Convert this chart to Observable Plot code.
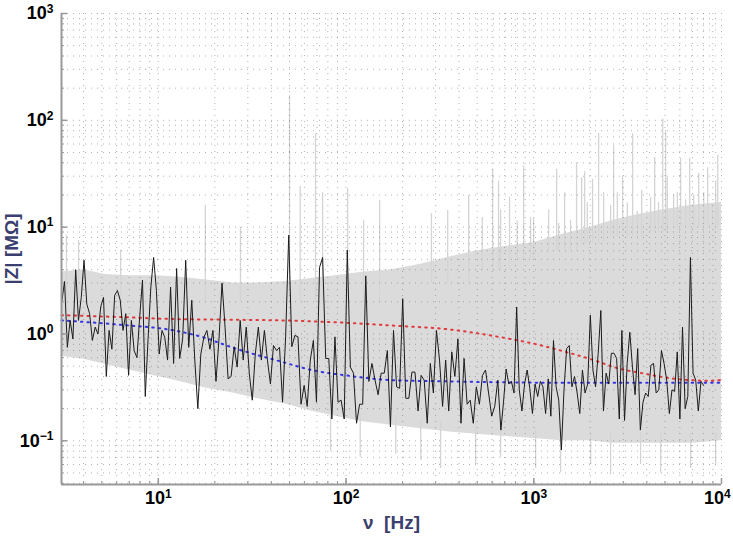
<!DOCTYPE html>
<html><head><meta charset="utf-8">
<script src="https://cdn.jsdelivr.net/npm/d3@7"></script>
<script src="https://cdn.jsdelivr.net/npm/@observablehq/plot@0.6"></script>
<style>body{margin:0;background:#fff}</style>
</head><body><div id="chart"></div>
<script>
// ---- axes ----
const xDomain = [3.05, 10000];
const yDomain = [0.039, 1000];
const xMajor = [10, 100, 1000, 10000];
const yMajor = [0.1, 1, 10, 100, 1000];
const xLabel = "ν  [Hz]";
const yLabel = "|Z| [MΩ]";

// ---- black measured trace (|Z| in MΩ), log-spaced samples ----
const blackZ = [
2.0,3.1,0.75,1.34,0.9,4.0,1.34,2.2,4.9,1.9,1.55,0.87,1.16,1.0,1.8,2.2,0.4,1.08,0.72,2.3,2.55,2.07,1.08,1.55,0.41,1.34,0.70,0.6,1.45,3.2,0.26,0.9,2.75,5.2,2.55,0.65,1.08,0.93,0.57,
2.75,0.53,4.1,0.59,0.9,4.9,0.75,2.07,0.57,0.20,0.65,0.93,1.08,0.72,1.08,0.36,0.9,3.0,1.16,0.38,0.40,0.76,0.49,1.34,0.57,1.16,0.43,0.24,0.65,1.16,0.57,1.08,0.57,0.34,0.78,0.70,0.75,0.23,
0.94,8.4,0.76,0.97,0.94,0.22,0.33,0.21,0.57,0.87,0.23,4.2,5.2,0.59,0.59,0.16,0.94,0.23,0.24,0.16,6.1,0.49,0.43,0.146,0.22,0.22,3.5,0.36,0.53,0.37,0.27,0.43,0.43,0.70,0.135,1.08,
0.32,0.31,2.14,0.25,0.25,0.44,0.44,0.19,0.41,0.37,0.146,0.53,0.28,1.08,0.57,0.21,0.57,0.19,0.68,0.40,0.90,0.146,0.59,0.22,0.24,0.146,0.32,0.22,0.41,0.46,0.28,0.17,0.21,0.37,0.126,
0.23,0.47,0.34,0.36,0.28,1.79,0.30,0.19,0.34,0.46,0.31,0.18,0.34,0.26,0.36,0.32,0.18,0.38,0.17,0.87,0.32,0.24,0.082,0.30,0.73,0.78,0.32,0.40,0.28,0.18,0.46,0.28,0.34,1.5,0.46,0.32,0.66,1.66,0.19,0.43,0.34,0.66,
0.66,0.59,0.16,1.08,0.155,0.53,1.04,0.49,0.27,0.73,0.126,0.23,0.28,0.26,0.51,0.53,0.28,0.30,0.70,0.53,0.37,0.18,0.30,0.29,0.68,0.16,1.16,0.20,0.26,5.2,0.43,0.37,0.19,0.36,0.33
];
// sample index -> frequency anchors (Hz)
const blackAnchorIdx = [0, 38, 76, 112, 147, 189, 224];
const blackAnchorF   = [3.06, 11.2, 45.9, 179, 668, 2590, 8030];

// ---- red & blue model curves ----
const redF = [3.05, 6.3, 12.05, 24.2, 45.3, 93.5, 175, 360, 674, 973, 1477, 2215, 2663, 3750, 5700, 8530, 10000];
const redZ = [1.5, 1.44, 1.38, 1.36, 1.34, 1.28, 1.2, 1.1, 0.93, 0.82, 0.68, 0.55, 0.49, 0.43, 0.38, 0.365, 0.37];
const blueF = [3.05, 6.3, 12.05, 17, 25.8, 45.3, 65.5, 99.4, 175, 360, 1229, 10000];
const blueZ = [1.34, 1.22, 1.08, 0.94, 0.73, 0.55, 0.46, 0.41, 0.37, 0.36, 0.35, 0.35];

// ---- gray spread (many realisations) ----
const grayF  = [3.05, 4, 5.2, 7, 9.9, 13, 18, 25, 33, 48, 65, 88, 125, 175, 250, 365, 500, 700, 1000, 1400, 2000, 2600, 3500, 4800, 7000, 10000];
const grayHi = [3.8, 4.0, 3.6, 3.5, 3.5, 3.4, 3.2, 3.0, 3.0, 3.1, 3.3, 3.5, 3.8, 4.0, 4.5, 5.3, 6.0, 6.6, 7.2, 8.5, 10, 11.5, 13, 14.5, 16, 17];
const grayLo = [0.62, 0.58, 0.52, 0.46, 0.4, 0.36, 0.31, 0.28, 0.25, 0.22, 0.19, 0.17, 0.15, 0.14, 0.13, 0.12, 0.115, 0.11, 0.105, 0.1, 0.1, 0.095, 0.095, 0.095, 0.095, 0.1];
const spikeF  = [3.24,3.76,6.3,17.8,27.4,50,57,68.8,75,102,124,151,285,348,450,604,649,743,883,962,1324,1459,1690,1798,1866,2057,2215,2663,2974,3363,3757,4406,4863,5040,6058,6767,7560,8440,9550,
                 532,666,816,998,1200,1357,1570,1928,2356,2567,2786,3150,3560,4190,4620,5140,5560,5820,6440,7110,8040,8940,9310];
const spikeHi = [8.4,7.5,6.1,16,10,170,24,75,21,23,11.5,17.7,13.4,14.3,19.8,35,27,19,37.6,12.3,35,21,40,29,33,28,75,58,30,75,22,45,103,80,44,44,32,36,47,
                 12.3,14.5,11.5,12,14.5,10.8,11.6,16.8,21,16,21,16.8,14,19,17,29,20,21,18,20,21,16,27];
const spikeLo = [2,2,2,2,2,2,2,2,2,2,2,2,3,3,3,4,4,4,5,5,6,6,6,7,7,7,7,8,8,8,8,9,9,9,10,10,10,10,10,
                 4,4,5,5,6,6,6,7,7,8,8,8,8,9,9,9,10,10,10,10,10,10,10];
const downF  = [82.7,119,184,250,319,490,666,1023,1390,2010,2566,3707,4742,6850,9310];
const downLo = [0.08,0.07,0.075,0.065,0.055,0.06,0.07,0.055,0.05,0.06,0.048,0.06,0.05,0.055,0.06];
const downHi = [0.2,0.18,0.17,0.16,0.15,0.15,0.14,0.13,0.13,0.12,0.12,0.12,0.12,0.12,0.12];

// ---- build tables ----
function idxToF(i) {
  let k = 0;
  while (k < blackAnchorIdx.length - 2 && i > blackAnchorIdx[k + 1]) k++;
  const a0 = blackAnchorIdx[k], a1 = blackAnchorIdx[k + 1];
  const l0 = Math.log10(blackAnchorF[k]), l1 = Math.log10(blackAnchorF[k + 1]);
  return Math.pow(10, l0 + (i - a0) / (a1 - a0) * (l1 - l0));
}
const black = blackZ.map((z, i) => ({f: idxToF(i), z}));
const red = redF.map((f, i) => ({f, z: redZ[i]}));
const blue = blueF.map((f, i) => ({f, z: blueZ[i]}));
const gray = grayF.map((f, i) => ({f, lo: grayLo[i], hi: grayHi[i]}));
const spikes = spikeF.map((f, i) => ({f, lo: spikeLo[i], hi: spikeHi[i]}))
  .concat(downF.map((f, i) => ({f, lo: downLo[i], hi: downHi[i]})));

const xAll = d3.scaleLog().domain(xDomain).ticks();
const yAll = d3.scaleLog().domain(yDomain).ticks();
const fmt = d => "10|" + Math.round(Math.log10(d));

const chart = Plot.plot({
  width: 733, height: 540,
  marginLeft: 61, marginRight: 12, marginTop: 13, marginBottom: 56,
  style: {fontFamily: "'Liberation Sans', Arial, sans-serif", fontSize: "18px", fontWeight: "bold", background: "#fff", overflow: "visible"},
  x: {type: "log", domain: xDomain},
  y: {type: "log", domain: yDomain},
  marks: [
    Plot.areaY(gray, {x: "f", y1: "lo", y2: "hi", fill: "#dbdbdb"}),
    Plot.ruleX(spikes, {x: "f", y1: "lo", y2: "hi", stroke: "#d4d4d4", strokeWidth: 1.3}),
    Plot.gridX(xAll, {stroke: "#666", strokeOpacity: 0.5, strokeDasharray: "1,5"}),
    Plot.gridY(yAll, {stroke: "#666", strokeOpacity: 0.5, strokeDasharray: "1,5"}),
    Plot.line(red, {x: "f", y: "z", stroke: "#e0393b", strokeWidth: 2, strokeDasharray: "1.5,5", curve: "monotone-x"}),
    Plot.line(blue, {x: "f", y: "z", stroke: "#3535e6", strokeWidth: 2, strokeDasharray: "1.5,5", curve: "monotone-x"}),
    Plot.line(black, {x: "f", y: "z", stroke: "#1c1c1c", strokeWidth: 1}),
    Plot.ruleX([xDomain[0]], {stroke: "#999", strokeWidth: 2}),
    Plot.ruleY([yDomain[0]], {stroke: "#999", strokeWidth: 2}),
    Plot.axisY(yAll, {tickSize: -3, tickFormat: () => "", stroke: "#999", label: null}),
    Plot.axisX(xAll, {tickSize: -3, tickFormat: () => "", stroke: "#999", label: null}),
    Plot.axisY(yMajor, {tickSize: -6, stroke: "#999", strokeWidth: 1.5, tickFormat: fmt, tickPadding: 14, fill: "#000",
      label: yLabel, labelAnchor: "center", labelOffset: 57, labelArrow: "none"}),
    Plot.axisX(xMajor, {tickSize: -6, stroke: "#999", strokeWidth: 1.5, tickFormat: fmt, tickPadding: 13, fill: "#000",
      label: xLabel, labelAnchor: "center", labelOffset: 44, labelArrow: "none"})
  ]
});
document.getElementById("chart").appendChild(chart);
// axis titles
d3.select(chart).select('[aria-label="y-axis label"] text').text(yLabel).attr("fill", "#3b3f70").style("font-size", "19px");
d3.select(chart).select('[aria-label="x-axis label"] text').text(xLabel).attr("fill", "#3b3f70").style("font-size", "19px").style("white-space", "pre");
// power-of-ten tick labels with raised exponent
d3.select(chart).selectAll('[aria-label="y-axis tick label"] text, [aria-label="x-axis tick label"] text').each(function() {
  const t = d3.select(this);
  const s = t.text();
  if (s.indexOf("|") < 0) return;
  const [base, exp] = s.split("|");
  t.text(base);
  t.append("tspan").attr("dy", "-0.55em").style("font-size", "12px").text(exp.replace("-", "\u2212"));
});
// keep the last x tick label inside the picture
const xLabels = d3.select(chart).selectAll('[aria-label="x-axis tick label"] text').nodes();
if (xLabels.length) {
  const last = xLabels[xLabels.length - 1];
  const bb = last.getBBox();
  const ctm = last.getCTM();
  const right = (ctm ? ctm.e : 0) + bb.x + bb.width;
  if (right > 731) d3.select(last).attr("dx", (731 - right) + "px");
}
</script>
</body></html>
